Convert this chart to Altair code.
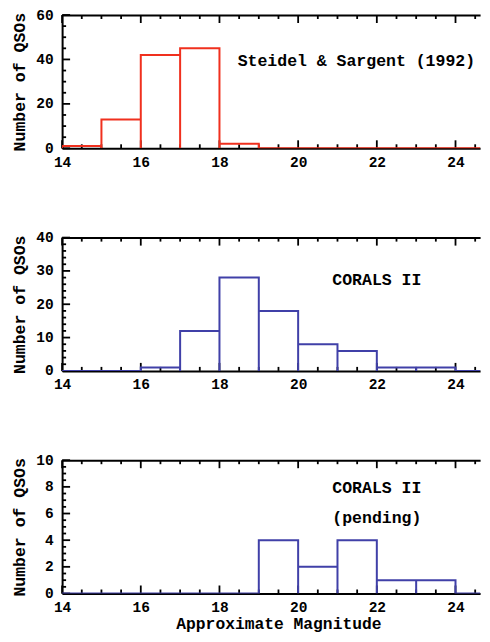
import altair as alt
import pandas as pd

# ---- data ----
bin_edges = [14, 15, 16, 17, 18, 19, 20, 21, 22, 23, 24, 25]
counts_steidel = [1, 13, 42, 45, 2, 0, 0, 0, 0, 0, 0]
counts_corals = [0, 0, 1, 12, 28, 18, 8, 6, 1, 1, 0]
counts_pending = [0, 0, 0, 0, 0, 4, 2, 4, 1, 1, 0]

x_major = [14, 16, 18, 20, 22, 24]
x_minor = [14.5, 15, 15.5, 16.5, 17, 17.5, 18.5, 19, 19.5, 20.5, 21, 21.5,
           22.5, 23, 23.5, 24.5]

y1_major = [0, 20, 40, 60]
y1_minor = [5, 10, 15, 25, 30, 35, 45, 50, 55]
y2_major = [0, 10, 20, 30, 40]
y2_minor = [2, 4, 6, 8, 12, 14, 16, 18, 22, 24, 26, 28, 32, 34, 36, 38]
y3_major = [0, 2, 4, 6, 8, 10]
y3_minor = [0.5, 1, 1.5, 2.5, 3, 3.5, 4.5, 5, 5.5, 6.5, 7, 7.5, 8.5, 9, 9.5]

label_steidel = ["Steidel & Sargent (1992)"]
label_corals = ["CORALS II"]
label_pending = ["CORALS II", "(pending)"]

y_title = "Number of QSOs"
x_title = "Approximate Magnitude"

RED = "#f0301e"
BLUE = "#4040a8"
FONT = "Liberation Mono"

W = 418
H = 133.3
XMAX = 24.625
MAJ = 8
MIN = 4
TW = 1.8
TICKC = "black"


def step_table(counts):
    rows = []
    k = 0
    for i, c in enumerate(counts):
        left, right = bin_edges[i], bin_edges[i + 1]
        for (xv, yv) in [(left, 0), (left, c), (right, c), (right, 0)]:
            rows.append({"mag": xv, "n": yv, "o": k})
            k += 1
    return pd.DataFrame(rows)


def text_layer(lines, xval, yval):
    return alt.Chart(pd.DataFrame({"t": lines})).mark_text(
        font=FONT, fontWeight="bold", fontSize=16.5, color="black",
        baseline="middle", align="center"
    ).encode(
        text="t:N",
        x=alt.XDatum(xval, type="quantitative", axis=None),
        y=alt.YDatum(yval, type="quantitative", axis=None),
    )


def panel(counts, color, ymax, ymaj, ymin, texts, show_xtitle):
    df = step_table(counts)
    xs = alt.Scale(domain=[14, XMAX], nice=False, zero=False)
    ys = alt.Scale(domain=[0, ymax], nice=False, zero=True)

    xkw = dict(orient="bottom", values=x_major, ticks=False, tickSize=0,
               labelPadding=7, labelFlush=False, labelOverlap=False,
               domain=True, domainColor="black", domainWidth=2,
               labelFont=FONT, labelFontWeight="bold", labelFontSize=14.5,
               labelColor="black", grid=False)
    if show_xtitle:
        xkw.update(title=x_title, titleFont=FONT, titleFontWeight="bold",
                   titleFontSize=16.3, titleColor="black",
                   titleX=216.3, titleY=35, titleBaseline="alphabetic")
    else:
        xkw.update(title=None)

    yaxis = alt.Axis(orient="left", values=ymaj, ticks=False, tickSize=0,
                     labelPadding=9, labelFlush=False, labelOverlap=False,
                     domain=True, domainColor="black", domainWidth=2,
                     labelFont=FONT, labelFontWeight="bold", labelFontSize=14.5,
                     labelColor="black", grid=False,
                     title=y_title, titleFont=FONT, titleFontWeight="bold",
                     titleFontSize=16.5, titleColor="black", titlePadding=7.7)

    top_axis = alt.Axis(orient="top", ticks=False, labels=False, domain=True,
                        domainColor="black", domainWidth=2, grid=False,
                        title=None)

    def xrules(values, y0, y1, axis=None):
        return alt.Chart(pd.DataFrame({"v": values})).mark_rule(
            color=TICKC, strokeWidth=TW
        ).encode(
            x=alt.X("v:Q", scale=xs, axis=axis),
            y=alt.value(y0), y2=alt.value(y1),
        )

    def yrules(values, x0, x1):
        return alt.Chart(pd.DataFrame({"v": values})).mark_rule(
            color=TICKC, strokeWidth=TW
        ).encode(
            y=alt.Y("v:Q", scale=ys, axis=None),
            x=alt.value(x0), x2=alt.value(x1),
        )

    line = alt.Chart(df).mark_line(color=color, strokeWidth=2, clip=True).encode(
        x=alt.X("mag:Q", scale=xs, axis=alt.Axis(**xkw)),
        y=alt.Y("n:Q", scale=ys, axis=yaxis),
        order="o:Q",
    )

    layers = [
        xrules(x_major, 0, MAJ, axis=top_axis),
        xrules(x_minor, 0, MIN),
        xrules(x_major, H, H - MAJ),
        xrules(x_minor, H, H - MIN),
        yrules(ymaj, 0, MAJ),
        yrules(ymin, 0, MIN),
        line,
    ]
    for (lines, xv, yv) in texts:
        layers.append(text_layer(lines, xv, yv))
    return alt.layer(*layers).resolve_axis(
        x="independent", y="independent"
    ).properties(width=W, height=H)


p1 = panel(counts_steidel, RED, 60, y1_major, y1_minor,
           [(label_steidel, 21.48, 39.5)], False)
p2 = panel(counts_corals, BLUE, 40, y2_major, y2_minor,
           [(label_corals, 22.0, 27.4)], False)
p3 = panel(counts_pending, BLUE, 10, y3_major, y3_minor,
           [([label_pending[0]], 22.0, 7.93), ([label_pending[1]], 22.0, 5.7)],
           True)

chart = alt.vconcat(p1, p2, p3, spacing=88.6, bounds="flush").properties(
    padding={"left": 3.1, "top": -2, "right": 0, "bottom": 0}
).configure_view(stroke="transparent").configure_axis(grid=False)

chart.save("out.html", embed_options={"renderer": "svg", "actions": False})
